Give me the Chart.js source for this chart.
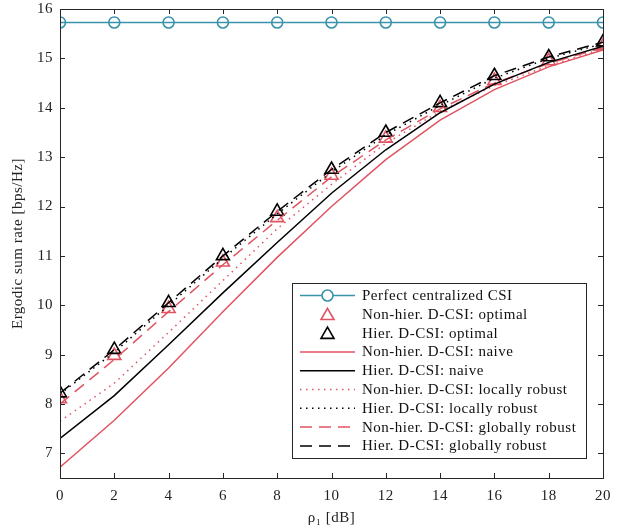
<!DOCTYPE html>
<html>
<head>
<meta charset="utf-8">
<script src="https://cdn.jsdelivr.net/npm/chart.js@4"></script>
<style>
  html, body { margin: 0; padding: 0; background: #fff; }
  canvas { display: block; }
</style>
</head>
<body>
<canvas id="rateChart" width="624" height="531"></canvas>
<script>
// rho_1 in dB
const rho = [0, 2, 4, 6, 8, 10, 12, 14, 16, 18, 20];
const xTicks = [0, 2, 4, 6, 8, 10, 12, 14, 16, 18, 20];
const yTicks = [7, 8, 9, 10, 11, 12, 13, 14, 15, 16];

// ergodic sum rate [bps/Hz]
const perfectCSI     = [15.73, 15.73, 15.73, 15.73, 15.73, 15.73, 15.73, 15.73, 15.73, 15.73, 15.73];
const nonHierOpt     = [8.10, 8.98, 9.93, 10.87, 11.77, 12.63, 13.38, 14.00, 14.55, 14.95, 15.25];
const hierOpt        = [8.22, 9.10, 10.05, 11.00, 11.90, 12.75, 13.50, 14.10, 14.65, 15.03, 15.33];
const nonHierNaive   = [6.72, 7.67, 8.73, 9.87, 10.97, 12.00, 12.95, 13.75, 14.37, 14.83, 15.17];
const hierNaive      = [7.30, 8.17, 9.20, 10.25, 11.27, 12.27, 13.15, 13.90, 14.48, 14.92, 15.25];
const nonHierLocal   = [7.65, 8.42, 9.45, 10.50, 11.55, 12.45, 13.28, 13.93, 14.45, 14.85, 15.20];
const hierLocal      = [8.20, 9.05, 10.00, 10.95, 11.85, 12.70, 13.45, 14.05, 14.60, 15.00, 15.30];
const nonHierGlobal  = [8.00, 8.90, 9.87, 10.82, 11.72, 12.60, 13.35, 13.98, 14.50, 14.90, 15.22];
const hierGlobal     = [8.22, 9.10, 10.05, 11.00, 11.90, 12.75, 13.50, 14.10, 14.65, 15.03, 15.33];

const TEAL = "#3a93ab";
const RED = "#e05461";
const BLACK = "#000000";
const AXIS = "#262626";
const FONT = "'Liberation Serif', 'DejaVu Serif', serif";

const pts = (ys)=> rho.map((x, i)=> ({x: x, y: ys[i]}));

const lineSet = (label, ys, color, dash)=> ({
    label: label,
    data: pts(ys),
    borderColor: color,
    backgroundColor: color,
    borderWidth: 1.5,
    borderDash: dash,
    pointRadius: 0,
    showLine: true,
    fill: false,
    tension: 0
});

const markerSet = (label, ys, color)=> ({
    label: label,
    data: pts(ys),
    borderColor: color,
    backgroundColor: "rgba(0,0,0,0)",
    borderWidth: 1.6,
    pointStyle: "triangle",
    pointRadius: 7.5,
    showLine: false
});

const datasets = [
    {
        label: "Perfect centralized CSI",
        data: pts(perfectCSI),
        borderColor: TEAL,
        backgroundColor: "rgba(0,0,0,0)",
        borderWidth: 1.5,
        pointStyle: "circle",
        pointRadius: 5.5,
        pointBorderWidth: 1.6,
        showLine: true,
        tension: 0
    },
    markerSet("Non-hier. D-CSI: optimal", nonHierOpt, RED),
    markerSet("Hier. D-CSI: optimal", hierOpt, BLACK),
    lineSet("Non-hier. D-CSI: naive", nonHierNaive, RED, []),
    lineSet("Hier. D-CSI: naive", hierNaive, BLACK, []),
    lineSet("Non-hier. D-CSI: locally robust", nonHierLocal, RED, [1.5, 4.5]),
    lineSet("Hier. D-CSI: locally robust", hierLocal, BLACK, [1.5, 4.5]),
    lineSet("Non-hier. D-CSI: globally robust", nonHierGlobal, RED, [12, 7]),
    lineSet("Hier. D-CSI: globally robust", hierGlobal, BLACK, [12, 7])
];
// draw red triangles beneath black ones
datasets[1].order = 2;
datasets[2].order = 1;

// wider text, closer to the LaTeX font of the original
const spacing = {
    id: "spacing",
    beforeDraw(chart) {
        chart.ctx.letterSpacing = "0.5px";
    }
};

// box around the plot with MATLAB style inward ticks
const boxTicks = {
    id: "boxTicks",
    afterDatasetsDraw(chart) {
        const {ctx, chartArea: a, scales: {x, y}} = chart;
        ctx.save();
        ctx.strokeStyle = AXIS;
        ctx.lineWidth = 1;
        ctx.beginPath();
        for(let v of xTicks) {
            const px = Math.round(x.getPixelForValue(v)) + 0.5;
            ctx.moveTo(px, a.bottom); ctx.lineTo(px, a.bottom - 5);
            ctx.moveTo(px, a.top); ctx.lineTo(px, a.top + 5);
        }
        for(let v of yTicks) {
            const py = Math.round(y.getPixelForValue(v)) + 0.5;
            ctx.moveTo(a.left, py); ctx.lineTo(a.left + 5, py);
            ctx.moveTo(a.right, py); ctx.lineTo(a.right - 5, py);
        }
        ctx.stroke();
        ctx.strokeRect(Math.round(a.left) + 0.5, Math.round(a.top) + 0.5,
            Math.round(a.right - a.left), Math.round(a.bottom - a.top));
        ctx.restore();
    }
};

// legend box inside the plot, lower right
const boxLegend = {
    id: "boxLegend",
    afterDraw(chart) {
        const {ctx, chartArea: a} = chart;
        const right = a.right - 17, bottom = a.bottom - 20;
        const w = 294, h = 175;
        const left = right - w, top = bottom - h;
        const rowH = 18.8;

        ctx.save();
        ctx.fillStyle = "#fff";
        ctx.fillRect(left, top, w, h);
        ctx.strokeStyle = AXIS;
        ctx.lineWidth = 1;
        ctx.strokeRect(Math.round(left) + 0.5, Math.round(top) + 0.5, w, h);

        ctx.font = "15px " + FONT;
        ctx.letterSpacing = "0.5px";
        ctx.textBaseline = "middle";
        chart.data.datasets.forEach((ds, i)=> {
            const cy = top + 12.5 + i * rowH;
            const x0 = left + 8, x1 = left + 63, cx = (x0 + x1) / 2;

            if(ds.showLine) {
                ctx.strokeStyle = ds.borderColor;
                ctx.lineWidth = ds.borderWidth;
                ctx.setLineDash(ds.borderDash || []);
                ctx.beginPath();
                ctx.moveTo(x0, cy); ctx.lineTo(x1, cy);
                ctx.stroke();
                ctx.setLineDash([]);
            }
            if(ds.pointRadius > 0) {
                ctx.strokeStyle = ds.borderColor;
                ctx.lineWidth = 1.6;
                ctx.fillStyle = "#fff";
                ctx.beginPath();
                if(ds.pointStyle === "circle")
                    ctx.arc(cx, cy, ds.pointRadius, 0, Math.PI * 2);
                else {
                    const r = ds.pointRadius;
                    for(let k = 0; k < 3; k++) {
                        const ang = k * 2 * Math.PI / 3;
                        const px = cx + Math.sin(ang) * r, py = cy + 1.5 - Math.cos(ang) * r;
                        k ? ctx.lineTo(px, py) : ctx.moveTo(px, py);
                    }
                    ctx.closePath();
                }
                ctx.fill();
                ctx.stroke();
            }
            ctx.fillStyle = "#111";
            ctx.fillText(ds.label, left + 70, cy + 0.5);
        });
        ctx.restore();
    }
};

const ctx = document.getElementById("rateChart");
const chart = new Chart(ctx, {
    type: "scatter",
    data: {datasets: datasets},
    plugins: [spacing, boxTicks, boxLegend],
    options: {
        responsive: false,
        animation: false,
        layout: {padding: {top: 7, right: 21, bottom: 0, left: 0}},
        plugins: {
            legend: {display: false},
            tooltip: {enabled: false}
        },
        scales: {
            x: {
                type: "linear",
                min: 0,
                max: 20,
                afterFit: (s)=> { s.height = 53; s.paddingLeft = 0; s.paddingRight = 0; },
                afterBuildTicks: (s)=> { s.ticks = xTicks.map(v=> ({value: v})); },
                grid: {display: false, drawTicks: false},
                border: {display: false},
                ticks: {
                    padding: 9,
                    color: "#222",
                    font: {family: FONT, size: 15},
                    maxRotation: 0
                },
                title: {
                    display: true,
                    text: "ρ₁ [dB]",
                    color: "#222",
                    font: {family: FONT, size: 15},
                    padding: {top: 0, bottom: 4}
                }
            },
            y: {
                type: "linear",
                min: 6.5,
                max: 16,
                afterFit: (s)=> { s.width = 60; s.paddingTop = 0; s.paddingBottom = 0; },
                afterBuildTicks: (s)=> { s.ticks = yTicks.map(v=> ({value: v})); },
                grid: {display: false, drawTicks: false},
                border: {display: false},
                ticks: {
                    padding: 7,
                    color: "#222",
                    font: {family: FONT, size: 15}
                },
                title: {
                    display: true,
                    text: "Ergodic sum rate [bps/Hz]",
                    color: "#222",
                    font: {family: FONT, size: 15},
                    padding: {top: 9, bottom: 0}
                }
            }
        }
    }
});
</script>
</body>
</html>
